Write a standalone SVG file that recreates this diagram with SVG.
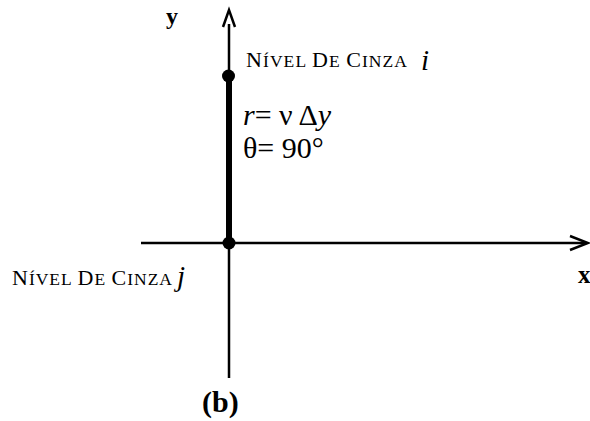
<svg xmlns="http://www.w3.org/2000/svg" width="590" height="421" viewBox="0 0 590 421">
<style>
.ax{stroke:#000;stroke-width:2.5;fill:none}
.chev{stroke:#000;stroke-width:2.5;fill:none;stroke-linejoin:miter}
.t{font-family:"Liberation Serif","Times New Roman",serif;fill:#000}
.cap{font-size:22px}
.sc{font-size:17.5px}
.it{font-style:italic}
.b{font-weight:bold}
</style>
<rect width="590" height="421" fill="#fff"/>
<g id="connectors">
<line class="ax" x1="141" y1="243" x2="586" y2="243"/>
<polyline class="chev" points="570,236 588,243 570,250"/>
<line class="ax" x1="229" y1="24" x2="229" y2="378"/>
<polyline class="chev" points="223,27 229,10 235,27"/>
<line x1="229" y1="75" x2="229" y2="243" stroke="#000" stroke-width="6"/>
</g>
<g id="node-i">
<circle cx="228.5" cy="76" r="6.5" fill="#000"/>
<text class="t" x="246" y="67" textLength="161" lengthAdjust="spacing"><tspan class="cap">N</tspan><tspan class="sc">ÍVEL </tspan><tspan class="cap">D</tspan><tspan class="sc">E </tspan><tspan class="cap">C</tspan><tspan class="sc">INZA</tspan></text>
<text class="t it" x="421" y="70" font-size="29">i</text>
</g>
<g id="node-j">
<circle cx="229" cy="243" r="6.5" fill="#000"/>
<text class="t" x="12" y="285" textLength="160" lengthAdjust="spacing"><tspan class="cap">N</tspan><tspan class="sc">ÍVEL </tspan><tspan class="cap">D</tspan><tspan class="sc">E </tspan><tspan class="cap">C</tspan><tspan class="sc">INZA</tspan></text>
<text class="t it" x="177" y="286" font-size="29">j</text>
</g>
<g id="labels">
<text class="t" x="243" y="125" font-size="30"><tspan class="it">r</tspan>= ν Δ<tspan class="it">y</tspan></text>
<text class="t" x="243" y="158" font-size="30">θ= 90°</text>
<text class="t b" x="166" y="24" font-size="24">y</text>
<text class="t b" x="578" y="283" font-size="25">x</text>
<text class="t b" x="202" y="412" font-size="30">(b)</text>
</g>
</svg>
